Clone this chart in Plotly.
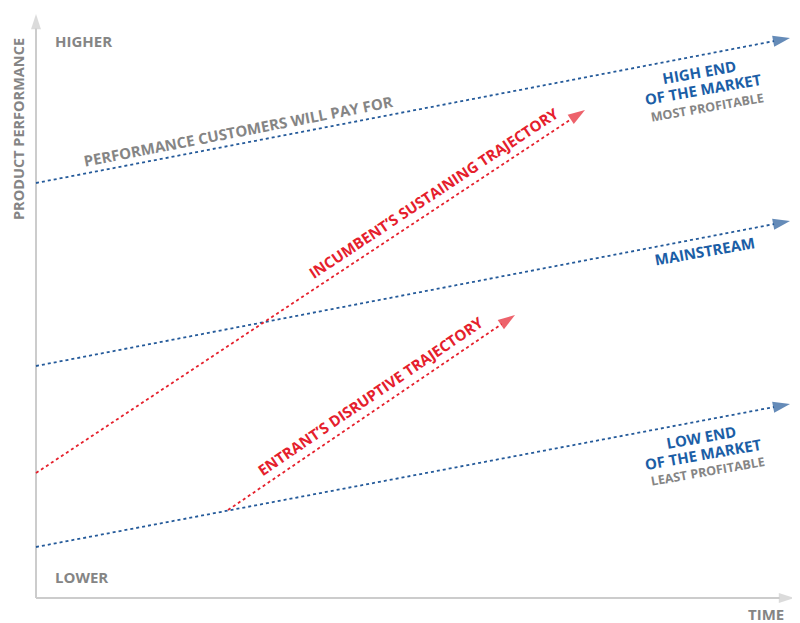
import plotly.graph_objects as go

WIN_W, WIN_H = 800, 623
PAD = 8                      # page margin around the figure
W, H = WIN_W - PAD, WIN_H - PAD
OX, OY = 36, 598             # window pixel of the diagram's origin

# ---- data (time, performance) in diagram units ----
axis_y_time = [0, 0]
axis_y_perf = [0, 584]
axis_x_time = [0, 758]
axis_x_perf = [0, 0]

pay_time = [0, 754]
pay_perf = [415, 560]
main_time = [0, 754]
main_perf = [232, 377]
low_time = [0, 754]
low_perf = [51, 194]

incumbent_time = [0, 549]
incumbent_perf = [125, 488]
entrant_time = [192, 479]
entrant_perf = [88, 283]

BLUE_LINE = "#245a9a"
BLUE_TXT = "#1b5ea6"
RED = "#e5202c"
GREY = "#858585"
AXIS = "#cccccc"

fig = go.Figure()


def arrow_line(t, p, color, dash, width, size):
    fig.add_trace(go.Scatter(
        x=t, y=p, mode="lines+markers",
        line=dict(color=color, dash=dash, width=width),
        marker=dict(symbol="arrow", size=[0, size], color=color,
                    angleref="previous", line=dict(width=0)),
        hoverinfo="skip", showlegend=False))


arrow_line(axis_y_time, axis_y_perf, AXIS, "solid", 2, 16)
arrow_line(axis_x_time, axis_x_perf, AXIS, "solid", 2, 16)
arrow_line(pay_time, pay_perf, BLUE_LINE, "dot", 1.8, 18)
arrow_line(main_time, main_perf, BLUE_LINE, "dot", 1.8, 18)
arrow_line(low_time, low_perf, BLUE_LINE, "dot", 1.8, 18)
arrow_line(incumbent_time, incumbent_perf, RED, "dot", 1.8, 18)
arrow_line(entrant_time, entrant_perf, RED, "dot", 1.8, 18)


def label(text, px, py, color, size=15, angle=0):
    fig.add_annotation(
        x=(px - PAD) / W, y=1 - (py - PAD) / H, xref="paper", yref="paper",
        text=text, showarrow=False, textangle=angle, align="center",
        xanchor="center", yanchor="middle",
        font=dict(family="Open Sans", size=size, color=color, weight=700))


label("HIGHER", 83, 41, GREY)
label("LOWER", 81, 577, GREY)
label("TIME", 766, 614, GREY)
label("PRODUCT PERFORMANCE", 18, 129, GREY, size=14.5, angle=-90)
label("PERFORMANCE CUSTOMERS WILL PAY FOR", 238, 131, GREY, angle=-11)
label("HIGH END", 699, 72, BLUE_TXT, angle=-10)
label("OF THE MARKET", 703, 89, BLUE_TXT, angle=-10)
label("MOST PROFITABLE", 707, 107, GREY, size=12.5, angle=-10)
label("MAINSTREAM", 704, 251, BLUE_TXT, angle=-10)
label("LOW END", 701, 437, BLUE_TXT, angle=-10)
label("OF THE MARKET", 703, 454, BLUE_TXT, angle=-10)
label("LEAST PROFITABLE", 707, 471, GREY, size=12.5, angle=-10)
label("INCUMBENT’S SUSTAINING TRAJECTORY", 433, 193, RED, angle=-33.5)
label("ENTRANT’S DISRUPTIVE TRAJECTORY", 370, 396, RED, angle=-34.3)

fig.update_layout(
    width=W, height=H,
    margin=dict(l=0, r=0, t=0, b=0),
    paper_bgcolor="white", plot_bgcolor="white",
    xaxis=dict(range=[PAD - OX, WIN_W - OX], visible=False, fixedrange=True),
    yaxis=dict(range=[OY - WIN_H, OY - PAD], visible=False, fixedrange=True),
)

fig.write_html("out.html")
